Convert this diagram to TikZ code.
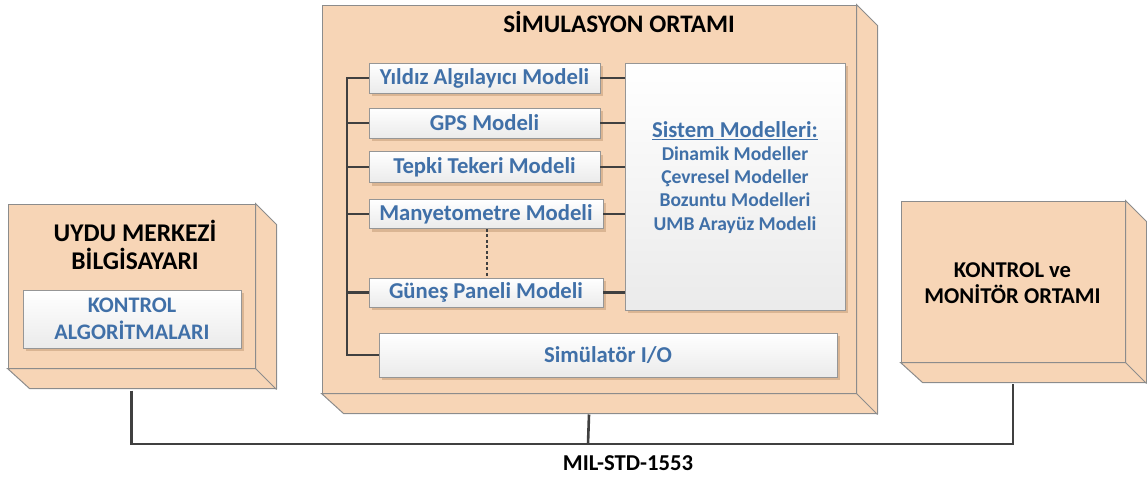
\documentclass[tikz,border=0pt]{standalone}
\usepackage{fontspec}
\setmainfont{Carlito}
\usetikzlibrary{shadows,calc}
\definecolor{peach}{RGB}{247,213,182}
\definecolor{edgegray}{RGB}{140,140,140}
\definecolor{txtblue}{RGB}{64,112,168}
\definecolor{busgray}{RGB}{64,64,64}
\definecolor{boxedge}{RGB}{150,150,150}
\tikzset{
  front/.style={draw=edgegray, line width=1pt, fill=peach, inner sep=0pt},
  side/.style={draw=edgegray, line width=1pt, fill=peach, line join=miter},
  mbox/.style={draw=boxedge, line width=0.9pt, inner sep=0pt, shading=axis, top color=white, bottom color=black!8,
    drop shadow={shadow xshift=3pt, shadow yshift=-3pt, opacity=0.25, fill=brown!70!black},
    font=\fontsize{22.7}{27}\selectfont\bfseries, text=txtblue},
  ttl/.style={text=black, align=center, inner sep=0pt},
  bus/.style={draw=busgray, line width=2.6pt},
  ibus/.style={draw=busgray, line width=2.4pt},
}
\begin{document}
\begin{tikzpicture}[x=1pt,y=-1pt]
\useasboundingbox (0,0) rectangle (1147,479);
% --- 3D boxes
% simulation
\node[front, minimum width=534pt, minimum height=388pt] (sim) at (589,199) {};
\path[side] (sim.north east) -- ++(21,21) -- ++(0,388) -- ++(-534,0) -- (sim.south west) -- (sim.south east) -- cycle;
\draw[edgegray, line width=1pt] (sim.south east) -- ++(21,21);
% left
\node[front, minimum width=247pt, minimum height=164pt] (uydu) at (131.5,286) {};
\path[side] (uydu.north east) -- ++(21,21) -- ++(0,164) -- ++(-247,0) -- (uydu.south west) -- (uydu.south east) -- cycle;
\draw[edgegray, line width=1pt] (uydu.south east) -- ++(21,21);
% right
\node[front, minimum width=224pt, minimum height=161pt] (mon) at (1013,281.5) {};
\path[side] (mon.north east) -- ++(21,21) -- ++(0,161) -- ++(-224,0) -- (mon.south west) -- (mon.south east) -- cycle;
\draw[edgegray, line width=1pt] (mon.south east) -- ++(21,21);
% titles
\node[ttl, font=\fontsize{25.2}{28}\selectfont\bfseries] (simt) at (619,22) {SİMULASYON ORTAMI};
\node[ttl, font=\fontsize{25.5}{28}\selectfont\bfseries] (uydut) at (135,245) {UYDU MERKEZİ\\BİLGİSAYARI};
\node[ttl, font=\fontsize{22.6}{26}\selectfont\bfseries] (mont) at (1012.5,283) {KONTROL ve\\MONİTÖR ORTAMI};
% inner boxes
\node[mbox, minimum width=218pt, minimum height=58pt, align=center, font=\fontsize{22.2}{27}\selectfont\bfseries] (kontrol) at (132,319) {KONTROL\\ALGORİTMALARI};
\node[mbox, minimum width=231pt, minimum height=30pt] (yildiz) at (484.5,78) {Yıldız Algılayıcı Modeli};
\node[mbox, minimum width=231pt, minimum height=30pt] (gps) at (484.5,123) {GPS Modeli};
\node[mbox, minimum width=231pt, minimum height=31pt] (tepki) at (484.5,167) {Tepki Tekeri Modeli};
\node[mbox, minimum width=234pt, minimum height=29pt] (many) at (486,214) {Manyetometre Modeli};
\node[mbox, minimum width=234pt, minimum height=29pt] (gunes) at (486,292.5) {Güneş Paneli Modeli};
\node[mbox, minimum width=220pt, minimum height=247pt] (sistem) at (735,186.5) {};
\node[mbox, minimum width=458pt, minimum height=44pt] (simio) at (608,355) {Simülatör I/O};
% sistem text
\node[font=\fontsize{22.7}{24}\selectfont\bfseries, text=txtblue, inner sep=0pt] (sm) at (735,131) {\underline{Sistem Modelleri:}};
\node[font=\fontsize{19.6}{23.3}\selectfont\bfseries, text=txtblue, align=center, inner sep=0pt] (sml) at (735,190) {Dinamik Modeller\\Çevresel Modeller\\Bozuntu Modelleri\\UMB Arayüz Modeli};
% internal bus
\coordinate (ib) at (347,78);
\draw[ibus] (yildiz.west) -- (yildiz.west -| ib) |- (simio.west);
\foreach \n in {gps,tepki,many,gunes}{
  \draw[ibus] (\n.west) -- (\n.west -| ib);
  \draw[ibus] (\n.east) -- (\n.east -| sistem.west);
}
\draw[ibus] (yildiz.east) -- (yildiz.east -| sistem.west);
\draw[busgray, line width=2.2pt, dash pattern=on 3pt off 2.5pt] (many.south -| 487,0) -- (gunes.north -| 487,0);
% external bus
\coordinate (milbus) at (588,444);
\draw[bus] ([yshift=-22pt]uydu.south) |- (milbus) -| ([yshift=-21pt]mon.south);
\draw[bus] ([yshift=-21pt]sim.south) -- (milbus);
\node[font=\fontsize{22.7}{26}\selectfont\bfseries, inner sep=0pt] (mil) at (628,463) {MIL-STD-1553};
\end{tikzpicture}
\end{document}
